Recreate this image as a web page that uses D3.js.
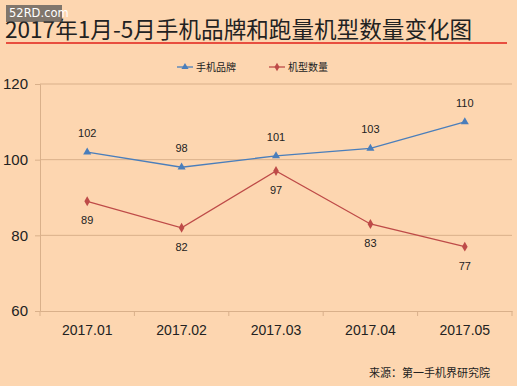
<!DOCTYPE html>
<html>
<head>
<meta charset="utf-8">
<script src="https://cdn.jsdelivr.net/npm/d3@7"></script>
<style>
  body { margin: 0; background: #fdd6b0; }
  svg { display: block; font-family: "Noto Sans CJK SC", "Liberation Sans", sans-serif; }
</style>
</head>
<body>
<div id="chart"></div>
<script>
// data
const months = ["2017.01", "2017.02", "2017.03", "2017.04", "2017.05"];
const brands = [102, 98, 101, 103, 110];   // 手机品牌
const models = [89, 82, 97, 83, 77];       // 机型数量
const yTicks = [60, 80, 100, 120];

const width = 517, height = 386;
const margin = { top: 84, right: 5, bottom: 75, left: 40 };

const svg = d3.select("#chart").append("svg")
    .attr("width", width)
    .attr("height", height);

svg.append("rect")
    .attr("width", width)
    .attr("height", height)
    .attr("fill", "#fdd6b0");

// title
svg.append("text")
    .attr("x", 5)
    .attr("y", 38)
    .attr("font-size", 22.6)
    .attr("fill", "#222")
    .text("2017年1月-5月手机品牌和跑量机型数量变化图");

svg.append("line")
    .attr("x1", 6).attr("x2", 507)
    .attr("y1", 43).attr("y2", 43)
    .attr("stroke", "#e0201a")
    .attr("stroke-width", 1.5);

// watermark
svg.append("rect")
    .attr("x", 6).attr("y", 5)
    .attr("width", 56).attr("height", 17)
    .attr("fill", "#555")
    .attr("opacity", 0.75);
svg.append("text")
    .attr("x", 9).attr("y", 17)
    .attr("font-size", 11.5)
    .attr("font-family", "DejaVu Sans")
    .attr("fill", "#fff")
    .text("52RD.com");

const g = svg.append("g")
    .attr("transform", `translate(${margin.left},${margin.top})`);

const w = width - margin.left - margin.right;
const h = height - margin.top - margin.bottom;

const x = d3.scaleBand().domain(months).range([0, w]);
const y = d3.scaleLinear().domain([60, 120]).range([h, 0]);

// gridlines
g.selectAll(".grid")
    .data(yTicks.filter(d => d > 60))
  .enter().append("line")
    .attr("x1", 0).attr("x2", w)
    .attr("y1", d => y(d)).attr("y2", d => y(d))
    .attr("stroke", "#d9b08a")
    .attr("stroke-width", 1);

// y axis
const yAxis = g.append("g")
    .call(d3.axisLeft(y).tickValues(yTicks).tickSize(5).tickPadding(7));
yAxis.select(".domain").attr("stroke", "#d9b08a");
yAxis.selectAll(".tick line").attr("stroke", "#d9b08a");
yAxis.selectAll("text")
    .attr("font-size", 15)
    .attr("fill", "#222")
    .attr("font-family", "Liberation Sans");

// x axis
const xAxis = g.append("g")
    .attr("transform", `translate(0,${h})`)
    .call(d3.axisBottom(x).tickSize(0).tickPadding(14));
xAxis.select(".domain").attr("stroke", "#d9b08a");
xAxis.selectAll("text")
    .attr("font-size", 14)
    .attr("fill", "#222")
    .attr("font-family", "Liberation Sans");
// band boundary ticks
g.selectAll(".btick")
    .data(months)
  .enter().append("line")
    .attr("x1", d => x(d)).attr("x2", d => x(d))
    .attr("y1", h).attr("y2", h + 5)
    .attr("stroke", "#d9b08a");
g.append("line")
    .attr("x1", w).attr("x2", w)
    .attr("y1", h).attr("y2", h + 5)
    .attr("stroke", "#d9b08a");

const cx = d => x(d) + x.bandwidth() / 2;

const series = [
    { name: "手机品牌", values: brands, color: "#4a7ebb", symbol: d3.symbolTriangle, dy: -15 },
    { name: "机型数量", values: models, color: "#be4b48", symbol: d3.symbolDiamond, dy: 23 }
];

series.forEach(s => {
    const line = d3.line()
        .x((d, i) => cx(months[i]))
        .y(d => y(d));

    g.append("path")
        .datum(s.values)
        .attr("d", line)
        .attr("fill", "none")
        .attr("stroke", s.color)
        .attr("stroke-width", 1.3);

    g.selectAll(null)
        .data(s.values)
      .enter().append("path")
        .attr("d", d3.symbol().type(s.symbol).size(28))
        .attr("transform", (d, i) => `translate(${cx(months[i])},${y(d)})`)
        .attr("fill", s.color);

    g.selectAll(null)
        .data(s.values)
      .enter().append("text")
        .attr("x", (d, i) => cx(months[i]))
        .attr("y", d => y(d) + s.dy)
        .attr("text-anchor", "middle")
        .attr("font-size", 11)
        .attr("font-family", "Liberation Sans")
        .attr("fill", "#222")
        .text(d => d);
});

// legend
const legend = svg.append("g").attr("transform", "translate(177,67)");
series.forEach((s, i) => {
    const lg = legend.append("g").attr("transform", `translate(${i * 92},0)`);
    lg.append("line")
        .attr("x1", 0).attr("x2", 16)
        .attr("stroke", s.color).attr("stroke-width", 1.3);
    lg.append("path")
        .attr("d", d3.symbol().type(s.symbol).size(22))
        .attr("transform", "translate(8,0)")
        .attr("fill", s.color);
    lg.append("text")
        .attr("x", 19).attr("y", 4)
        .attr("font-size", 10)
        .attr("fill", "#222")
        .text(s.name);
});

// source
svg.append("text")
    .attr("x", 490)
    .attr("y", 377)
    .attr("text-anchor", "end")
    .attr("font-size", 11)
    .attr("fill", "#222")
    .text("来源：第一手机界研究院");
</script>
</body>
</html>
